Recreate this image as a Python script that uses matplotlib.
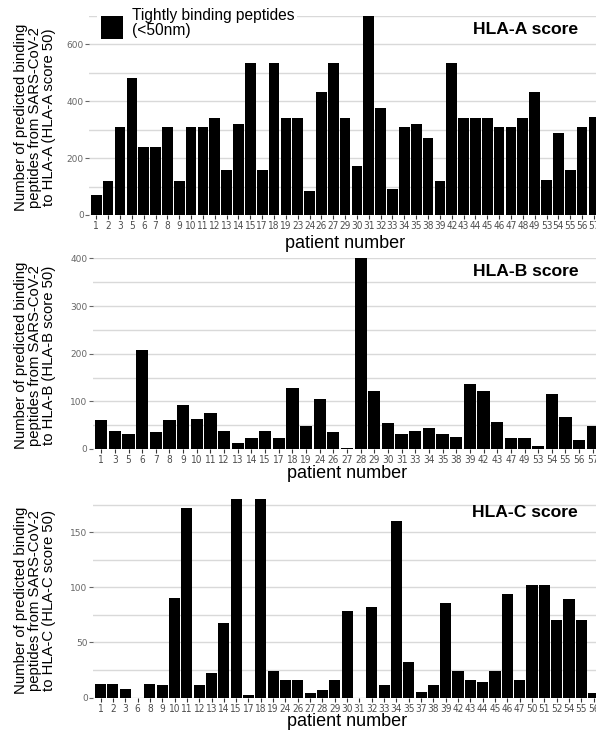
import matplotlib
matplotlib.use("Agg")
import matplotlib.pyplot as plt
from matplotlib import font_manager
from matplotlib.patches import Rectangle
from matplotlib.ticker import MultipleLocator

# ------------------------------------------------------------
# data
# ------------------------------------------------------------
hla_a_patients = ["1", "2", "3", "5", "6", "7", "8", "9", "10", "11", "12", "13", "14", "15",
                  "17", "18", "19", "23", "24", "26", "27", "29", "30", "31", "32", "33", "34",
                  "35", "38", "39", "42", "43", "44", "45", "46", "47", "48", "49", "53", "54",
                  "55", "56", "57"]
hla_a_counts = [70, 118, 310, 483, 240, 240, 310, 118, 310, 310, 340, 160, 320, 535,
                157, 535, 340, 340, 86, 433, 535, 340, 174, 700, 378, 90, 310,
                320, 270, 118, 535, 340, 340, 340, 310, 310, 340, 433, 124, 290,
                160, 310, 345]

hla_b_patients = ["1", "3", "5", "6", "7", "8", "9", "10", "11", "12", "13", "14", "15", "17",
                  "18", "19", "24", "26", "27", "28", "29", "30", "31", "33", "34", "35", "38",
                  "39", "42", "43", "47", "49", "53", "54", "55", "56", "57"]
hla_b_counts = [61, 38, 32, 208, 36, 61, 93, 63, 76, 38, 13, 23, 38, 23,
                128, 48, 105, 36, 2, 401, 122, 55, 32, 38, 44, 32, 25,
                137, 122, 57, 23, 23, 6, 116, 67, 19, 48]

hla_c_patients = ["1", "2", "3", "6", "8", "9", "10", "11", "12", "13", "14", "15", "17", "18",
                  "19", "24", "26", "27", "28", "29", "30", "31", "32", "33", "34", "35", "37",
                  "38", "39", "42", "43", "44", "45", "46", "47", "50", "51", "52", "54", "55",
                  "56"]
hla_c_counts = [12, 12, 8, 0, 12, 11, 90, 172, 11, 22, 68, 180, 2, 180,
                24, 16, 16, 4, 7, 16, 78, 0, 82, 11, 160, 32, 5,
                11, 86, 24, 16, 14, 24, 94, 16, 102, 102, 70, 89, 70,
                4]

W, H = 596, 730
GRID = "#d9d9d9"
TICK_TXT = "#4d4d4d"

plt.rcParams["font.family"] = ["Liberation Sans", "DejaVu Sans"]


def narrow_tick_font():
    """Pick a condensed font for the crowded patient numbers if one is installed."""
    fonts = font_manager.fontManager.ttflist
    names = {f.name for f in fonts}
    if "Liberation Sans Narrow" in names:
        return dict(family="Liberation Sans Narrow", fontsize=8)
    for f in fonts:
        if f.name == "DejaVu Sans" and f.stretch in ("condensed", 600, "semi-condensed"):
            return dict(family="DejaVu Sans", fontstretch="condensed", fontsize=7.2)
    if "Roboto Condensed" in names:
        return dict(family="Roboto Condensed", fontsize=8)
    return dict(family="Roboto", fontsize=6.6)


TICK_FONT = narrow_tick_font()

fig = plt.figure(figsize=(W / 100, H / 100), dpi=100)
fig.patch.set_facecolor("white")


def px_axes(left, top, right, bottom):
    return fig.add_axes([left / W, 1 - bottom / H, (right - left) / W, (bottom - top) / H])


def draw_panel(ax, patients, counts, ymax, major, minor, title, hla, xlabel_pad):
    x = list(range(len(patients)))
    ax.bar(x, counts, width=0.9, color="black", zorder=2)
    ax.set_xlim(-0.6, len(patients) - 0.4)
    ax.set_ylim(0, ymax)

    ax.yaxis.set_major_locator(MultipleLocator(major))
    ax.yaxis.set_minor_locator(MultipleLocator(minor))
    ax.grid(True, which="both", axis="y", color=GRID, linewidth=1.0, zorder=0)
    ax.set_axisbelow(True)

    ax.set_xticks(x)
    ax.set_xticklabels(patients, color=TICK_TXT, **TICK_FONT)
    ax.tick_params(axis="x", length=3, width=0.8, color="#333333", pad=1.5)
    ax.tick_params(axis="y", which="major", length=3, width=0.8, color="#666666",
                   labelsize=6.5, labelcolor="#666666", pad=1)
    ax.tick_params(axis="y", which="minor", length=0)
    for lbl in ax.get_yticklabels():
        lbl.set_family("DejaVu Sans")

    for side in ["top", "right", "left", "bottom"]:
        ax.spines[side].set_visible(False)

    ax.set_xlabel("patient number", fontsize=13, labelpad=xlabel_pad)
    ax.text(0.955, 0.93, title, transform=ax.transAxes, ha="right", va="center",
            fontsize=12.6, fontweight="bold")

    # y label as a three-line block to the left
    pos = ax.get_position()
    fig.text(35 / W, pos.y0 + pos.height / 2 - 2 / H,
             "Number of predicted binding\npeptides from SARS-CoV-2\n"
             "to %s (%s score 50)" % (hla, hla),
             rotation=90, ha="center", va="center", multialignment="center",
             fontsize=10.7, linespacing=0.98)


ax_a = px_axes(89.2, 16, 601, 215)
draw_panel(ax_a, hla_a_patients, hla_a_counts, 700, 200, 100, "HLA-A score", "HLA-A", 3)

ax_b = px_axes(93, 258, 601, 449)
draw_panel(ax_b, hla_b_patients, hla_b_counts, 401, 100, 50, "HLA-B score", "HLA-B", 0)

ax_c = px_axes(93.2, 499, 601, 697.5)
draw_panel(ax_c, hla_c_patients, hla_c_counts, 180, 50, 25, "HLA-C score", "HLA-C", -0.3)

# legend (drawn over the top panel, white box hides the grid line)
fig.add_artist(Rectangle((97 / W, 1 - 42 / H), 200 / W, 42 / H,
                         transform=fig.transFigure, facecolor="white",
                         edgecolor="none", zorder=3))
fig.add_artist(Rectangle((101 / W, 1 - 39 / H), 22 / W, 23 / H,
                         transform=fig.transFigure, facecolor="black",
                         edgecolor="none", zorder=4))
fig.text(132 / W, 1 - 23 / H, "Tightly binding peptides\n(<50nm)",
         ha="left", va="center", fontsize=11.2, linespacing=0.95, zorder=5)

fig.savefig("out.png", dpi=100, facecolor="white")
